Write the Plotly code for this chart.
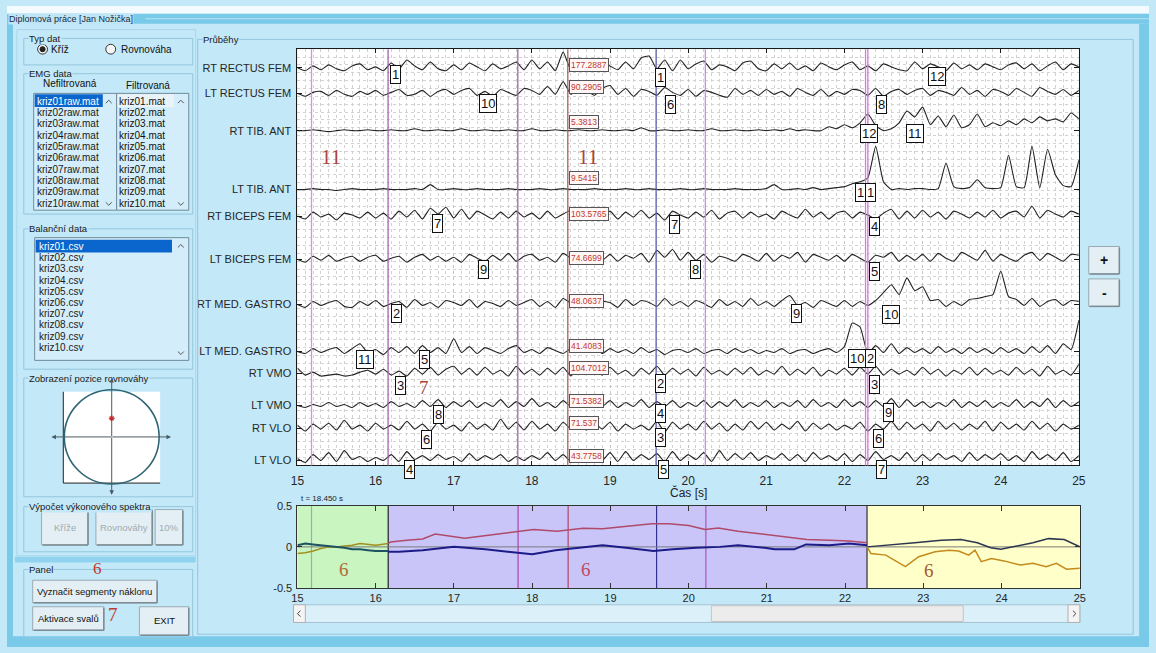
import numpy as np
import plotly.graph_objects as go

W, H = 1156, 653
SANS = "Liberation Sans"
SERIF = "Liberation Serif"

# ---------------- data ----------------
t_start = 15.0
t_step = 0.1

channel_names = ["RT RECTUS FEM", "LT RECTUS FEM", "RT TIB. ANT", "LT TIB. ANT",
                 "RT BICEPS FEM", "LT BICEPS FEM", "RT MED. GASTRO", "LT MED. GASTRO",
                 "RT VMO", "LT VMO", "RT VLO", "LT VLO"]
channel_baseline = [405, 379, 341, 281, 254, 210, 164, 116, 94, 61, 38, 5]

rt_rectus_fem = [0, -3, 2, -2, 3, -1, -3, 2, 4, -2,
                 1, -3, 5, -1, 8, 2, -2, 6, -1, -3,
                 3, -2, 5, 1, -3, 4, -1, 2, 6, -2,
                 8, -1, 6, -3, 16, -2, 10, 3, -2, 5,
                 2, -2, 6, -1, 10, 12, -1, 8, -3, 8,
                 -1, 4, 7, -2, 3, 1, -3, 5, 7, -1,
                 -3, 4, -1, 5, -2, 2, -3, 5, 1, -2,
                 3, 6, -2, 2, -3, 4, 1, -2, -3, 6,
                 -1, 4, 1, -3, 5, -1, 3, -2, 4, 1,
                 -2, 3, 5, -1, 4, -3, 2, 6, -2, 4,
                 1]
lt_rectus_fem = [0, -3, 1, 2, -2, 3, -1, -3, 2, -1,
                 3, -2, 1, 4, -2, -1, 3, -3, 2, 4,
                 -1, 3, 5, -2, 2, -3, 4, 1, -2, 5,
                 3, -1, 7, -1, 12, -1, 6, 3, -2, 5,
                 8, -1, 5, -3, 4, 2, -2, 6, 1, -2,
                 4, -3, 3, 1, -2, -4, 5, -1, 3, -2,
                 4, -1, 2, -3, 5, 1, -2, 4, -3, 2,
                 -1, 4, 3, -2, 5, -3, 2, 4, -1, 3,
                 5, -2, 3, 1, -2, 6, -1, 3, -3, 4,
                 2, -2, 5, 1, -3, 6, 2, -1, 4, -2,
                 3]
rt_tib_ant = [0, 0, 1, 0, -1, 0, 1, 0, 0, 1,
              0, 0, 1, 0, 0, 2, 0, 0, 1, 0,
              0, 2, 0, 0, 1, 0, 0, 1, 0, 0,
              2, 0, 0, 1, 0, 0, 1, 0, 0, 1,
              0, 0, 1, 0, 3, 0, 0, 1, 0, 0,
              1, 0, 0, 2, 0, 0, 1, 0, 0, 1,
              0, 1, 0, 2, 0, 1, 0, 0, 4, 2,
              6, 3, 8, 17, 5, 0, 2, 8, 20, 14,
              24, 6, 15, 4, 16, 3, 6, 17, 4, 8,
              5, 10, 6, 12, 8, 14, 10, 12, 9, 18,
              12]
lt_tib_ant = [0, 0, 1, 0, 0, -1, 0, 1, 0, 0,
              0, 1, 0, 0, 0, 1, 0, 5, 0, 0,
              1, 0, 0, 1, 0, 0, 0, 1, 0, 0,
              0, 1, 0, 0, 1, 0, 0, 0, 1, 0,
              0, 0, 1, 0, 0, 1, 0, 0, 0, 1,
              0, 0, 1, 0, 0, 0, 1, 0, 0, 0,
              1, 5, 0, 0, 1, 0, 2, 0, 1, 2,
              3, 6, 8, 12, 44, 8, 0, 1, 0, 1,
              1, 0, 1, 27, 3, 1, 2, 10, 2, 1,
              2, 35, 3, 2, 44, 2, 41, 15, 4, 3,
              30]
rt_biceps_fem = [0, -3, 4, -1, 2, -4, 3, 1, -2, 4,
                 -2, 3, -3, 5, -1, 6, -3, 8, 2, 9,
                 -2, 7, -3, 5, 1, -3, 4, -2, 5, -1,
                 3, -3, 5, -2, 2, 6, -3, 4, 1, -2,
                 5, -3, 4, -1, 6, -2, 3, -4, 5, 1,
                 -2, 4, -1, 6, -3, 3, 5, -2, 4, -1,
                 2, -3, 5, 1, -2, 7, -1, 4, -3, 3,
                 5, -2, 4, 1, -3, 3, 7, -3, 5, -2,
                 6, -1, 4, -3, 5, 2, -2, 4, -1, 6,
                 -2, 3, 5, -1, 10, -2, 6, 2, -1, 5,
                 2]
lt_biceps_fem = [0, -3, 3, -1, 4, -2, 1, 3, -2, 2,
                 4, -2, 1, 3, -3, 2, 5, -1, 3, -2,
                 2, -3, 5, 1, -2, 4, -1, 6, -2, 3,
                 5, -1, 2, -3, 6, 1, -2, 4, 7, -1,
                 5, -2, 4, 1, 6, -3, 9, 2, 10, -1,
                 7, -1, 5, -3, 3, 1, -2, 5, 2, -2,
                 6, -2, 4, 1, 7, -3, 5, 2, -1, 4,
                 -2, 5, 1, -3, 4, 2, 7, -2, 4, -1,
                 5, -2, 6, 1, -2, 7, 3, -1, 9, -2,
                 5, 1, -2, 4, 7, -1, 6, 2, -2, 5,
                 4]
rt_med_gastro = [0, -3, 3, -1, 2, 4, -2, -3, 3, -1,
                 4, -2, 1, 3, -3, 5, -1, 2, -3, 4,
                 2, -1, 5, -3, 3, 1, -2, 4, -1, 2,
                 5, -2, 3, -3, 6, 1, -1, 4, -2, 3,
                 2, -3, 5, -1, 4, 2, -2, 6, -1, 3,
                 -2, 4, 1, -3, 5, -1, 3, -2, 6, -1,
                 3, -2, 4, 9, -1, 2, -3, 4, 1, -2,
                 4, -2, 3, -1, 4, 12, 20, 10, 27, 14,
                 18, 4, 5, -2, 3, -1, 5, 6, 8, 10,
                 34, 8, 5, -1, 6, -2, 3, 5, -1, 4,
                 3]
lt_med_gastro = [0, -2, 3, -1, 2, 4, -2, 3, 8, -1,
                 2, -3, 4, -1, 5, -2, 6, -1, 4, -2,
                 13, -1, 5, -2, 4, 1, -2, 3, 6, -1,
                 2, -2, 4, 1, -2, 3, -1, 5, 4, -2,
                 3, -1, 2, -2, 4, -1, 2, -3, 1, 2,
                 -1, 3, -2, 1, 2, -2, 3, -1, 2, -2,
                 1, -1, 3, -2, 1, 2, -2, 1, 3, -1,
                 5, 29, 25, -2, 6, -1, 8, -2, 4, -1,
                 3, -2, 5, -1, 3, -2, 4, -1, 3, -2,
                 4, -1, 3, -2, 5, -1, 6, -2, 8, 2,
                 32]
rt_vmo = [5, -2, 1, -3, -2, -1, -3, -2, 1, 3,
          -1, 4, -2, 2, -3, 5, -1, 6, -2, 4,
          7, -1, 5, -2, 6, -1, 3, -3, 7, -1,
          4, -2, 5, -1, 6, -3, 7, -1, 4, -2,
          6, -1, 3, -3, 5, -1, 7, -2, 5, -1,
          4, -3, 6, -1, 3, -2, 5, -1, 6, -2,
          3, -1, 7, -2, 4, -1, 6, -3, 3, -1,
          5, -2, 6, -1, 7, -2, 4, -1, 3, -2,
          6, -1, 4, -3, 3, -1, 6, -2, 5, -1,
          3, -2, 6, -1, 4, -3, 7, -1, 3, -2,
          9]
lt_vmo = [0, -2, 1, -1, 3, -1, 1, -2, 3, -1,
          2, -2, 4, -1, 2, -2, 5, -1, 6, -2,
          4, -1, 5, -2, 3, -1, 6, -2, 4, -1,
          7, -1, 3, -2, 5, -1, 6, -2, 3, -1,
          5, -2, 3, -1, 6, -2, 4, -1, 5, -2,
          3, -1, 5, -2, 4, -1, 6, -2, 3, -1,
          5, -2, 3, -1, 5, -2, 6, -1, 3, -2,
          6, -1, 4, -2, 5, -1, 7, -2, 6, -1,
          4, -2, 3, -1, 6, -2, 4, -1, 5, -2,
          3, -1, 6, -2, 4, -1, 7, -2, 5, -1,
          4]
rt_vlo = [3, -3, 4, -1, 5, -2, 8, -1, 3, -3,
          5, -1, 3, -2, 7, -1, 4, -3, 6, -1,
          3, -3, 6, -1, 4, -2, 9, -1, 6, -2,
          7, -1, 4, -3, 6, -1, 3, -2, 5, -1,
          6, -3, 4, -1, 3, -2, 7, -4, 6, -1,
          4, -2, 7, -1, 5, -3, 4, -2, 7, -1,
          6, -2, 4, -1, 7, -3, 5, -1, 4, -2,
          3, -1, 6, -3, 4, -1, 7, -2, 6, -1,
          4, -3, 7, -1, 5, -2, 4, -1, 7, -3,
          6, -1, 4, -2, 7, -1, 5, -3, 4, -1,
          3]
lt_vlo = [2, -2, 6, 0, 8, -1, 10, 1, 4, -1,
          3, 0, 6, -1, 9, 1, 5, 0, 6, 1,
          4, -1, 7, 0, 5, 1, 6, -1, 4, 0,
          5, 1, 8, 0, 6, -1, 10, 2, 7, 0,
          8, -1, 9, 0, 6, 1, 7, -1, 9, 0,
          6, 1, 8, -1, 10, 0, 7, 1, 8, 0,
          5, 1, 7, 0, 6, -1, 8, 1, 5, 0,
          7, -1, 6, 0, 9, 1, 5, 0, 8, -1,
          6, 0, 7, 1, 5, -1, 8, 0, 6, 1,
          7, 0, 5, -1, 9, 1, 6, 0, 8, -1,
          5]

channels = [rt_rectus_fem, lt_rectus_fem, rt_tib_ant, lt_tib_ant, rt_biceps_fem,
            lt_biceps_fem, rt_med_gastro, lt_med_gastro, rt_vmo, lt_vmo, rt_vlo, lt_vlo]

peak_values = ["177.2887", "90.2905", "5.3813", "9.5415", "103.5765", "74.6699",
               "48.0637", "41.4083", "104.7012", "71.5382", "71.537", "43.7758"]
peak_lift = [3, 6, 9, 12, 2, 1, 3, 6, 5, 5, 5, 5]
cursor_time = 18.46

segment_times = [15.18, 16.16, 17.82, 18.46, 19.59, 20.22, 22.27, 22.30]
segment_colors_main = ["#d892d8", "#a464ac", "#a464ac", "#a86060", "#5c5cab",
                       "#c890e0", "#d47cd8", "#d47cd8"]

label_time = [16.25, 19.65, 23.19, 17.44, 19.77, 22.47, 22.32, 22.90, 22.20, 22.34,
              16.79, 19.82, 22.39, 17.38, 20.10, 22.39, 16.27, 21.39, 22.59,
              15.86, 16.63, 22.16, 22.33, 16.32, 19.65, 22.39, 16.81, 19.65, 22.56,
              16.65, 19.65, 22.44, 16.43, 19.68, 22.47]
label_level = [398, 395, 396, 369, 368, 368, 338, 338, 278, 278,
               246, 245, 243, 200, 200, 198, 155, 155, 154,
               108, 108, 109, 109, 81, 83, 82, 52, 53, 54,
               26, 28, 27, -4, -4, -4]
label_text = ["1", "1", "12", "10", "6", "8", "12", "11", "1", "1",
              "7", "7", "4", "9", "8", "5", "2", "9", "10",
              "11", "5", "10", "2", "3", "2", "3", "8", "4", "9",
              "6", "3", "6", "4", "5", "7"]

# centre-of-pressure traces (bottom panel)
green_t = [15.0, 15.1, 15.2, 15.3, 15.4, 15.5, 15.6, 15.7, 15.8, 15.9, 16.0, 16.16]
green_teal = [0.02, 0.04, 0.03, 0.02, 0.01, 0.0, -0.01, -0.03, -0.03, -0.04, -0.05, -0.05]
green_olive = [-0.08, -0.07, -0.05, -0.02, 0.0, 0.0, 0.01, 0.02, 0.04, 0.03, 0.02, 0.04]

purple_red_t = [16.16, 16.19, 16.4, 16.6, 16.76, 16.97, 17.14, 17.44, 17.82, 18.02, 18.32,
                18.65, 18.9, 19.24, 19.53, 19.75, 20.0, 20.21, 20.38, 20.63, 20.97,
                21.22, 21.51, 21.8, 22.05, 22.28]
purple_red = [0.04, 0.06, 0.08, 0.095, 0.155, 0.13, 0.105, 0.14, 0.18, 0.21, 0.19,
              0.225, 0.22, 0.25, 0.28, 0.28, 0.26, 0.21, 0.23, 0.19, 0.15,
              0.12, 0.09, 0.08, 0.07, 0.05]
purple_blue_t = [16.16, 16.3, 16.6, 17.0, 17.4, 17.8, 18.0, 18.3, 18.6, 18.9, 19.2,
                 19.55, 19.8, 20.1, 20.4, 20.63, 20.97, 21.1, 21.35, 21.5, 21.8,
                 22.05, 22.28]
purple_blue = [-0.06, -0.06, -0.04, 0.0, -0.03, -0.07, -0.09, -0.04, -0.01, 0.02, -0.01,
               -0.05, -0.03, -0.01, 0.0, 0.02, -0.01, -0.03, -0.03, 0.03, 0.02,
               0.04, 0.02]
yellow_dark_t = [22.28, 22.55, 22.89, 23.23, 23.48, 23.69, 23.86, 23.99, 24.2, 24.4,
                 24.6, 24.8, 25.0]
yellow_dark = [0.0, 0.02, 0.05, 0.08, 0.09, 0.05, -0.01, -0.03, 0.01, 0.05,
               0.1, 0.09, 0.0]
yellow_orange_t = [22.28, 22.33, 22.52, 22.77, 22.94, 23.15, 23.33, 23.45, 23.58, 23.66,
                   23.74, 23.87, 24.03, 24.24, 24.4, 24.57, 24.7, 24.83, 25.0]
yellow_orange = [0.0, -0.08, -0.1, -0.24, -0.12, -0.06, -0.04, -0.05, -0.1, -0.04,
                 -0.18, -0.14, -0.17, -0.22, -0.2, -0.24, -0.2, -0.27, -0.26]

region_bounds = [15.0, 16.16, 22.28, 25.0]
region_colors = ["#c9f5c1", "#c9c5f9", "#ffffc9"]
segment_times_bottom = [15.18, 16.16, 17.82, 18.46, 19.59, 20.22, 22.28]
segment_colors_bottom = ["#a8a8a8", "#202020", "#b040b0", "#b04868", "#303090",
                         "#b050c0", "#303030"]

nef_files = ["kriz%02draw.mat" % i for i in range(1, 11)]
fil_files = ["kriz%02d.mat" % i for i in range(1, 11)]
bal_files = ["kriz%02d.csv" % i for i in range(1, 11)]

# ---------------- figure ----------------
t = np.round(t_start + t_step * np.arange(len(rt_rectus_fem)), 3)

fig = go.Figure()
for base, vals in zip(channel_baseline, channels):
    fig.add_trace(go.Scatter(x=t, y=base + np.array(vals, dtype=float), mode="lines",
                             line=dict(color="#222222", width=1.1, shape="spline", smoothing=0.5),
                             xaxis="x", yaxis="y", hoverinfo="skip", showlegend=False))

def cop(x, y, color, width=1.5):
    fig.add_trace(go.Scatter(x=x, y=y, mode="lines", line=dict(color=color, width=width),
                             xaxis="x2", yaxis="y2", hoverinfo="skip", showlegend=False))

cop(green_t, green_olive, "#a09020")
cop(green_t, green_teal, "#1e5262", 2)
cop(purple_red_t, purple_red, "#b04a6a")
cop(purple_blue_t, purple_blue, "#1c1c88", 2)
cop(yellow_dark_t, yellow_dark, "#2c3550")
cop(yellow_orange_t, yellow_orange, "#c48a1c")

shapes = []
annotations = []

def px(x):
    return x / W

def py(y):
    return 1 - y / H

def rect(x0, y0, x1, y1, fill=None, line=None, lw=1):
    shapes.append(dict(type="rect", xref="paper", yref="paper", x0=px(x0), x1=px(x1),
                       y0=py(y1), y1=py(y0), fillcolor=fill or "rgba(0,0,0,0)",
                       line=dict(color=line or "rgba(0,0,0,0)", width=lw if line else 0),
                       layer="above"))

def line(x0, y0, x1, y1, color, lw=1):
    shapes.append(dict(type="line", xref="paper", yref="paper", x0=px(x0), x1=px(x1),
                       y0=py(y0), y1=py(y1), line=dict(color=color, width=lw)))

def path(points, color, lw=1):
    d = "M " + " L ".join("%.5f,%.5f" % (px(a), py(b)) for a, b in points)
    shapes.append(dict(type="path", xref="paper", yref="paper", path=d,
                       line=dict(color=color, width=lw)))

def circle(cx, cy, r, fill=None, color="#333", lw=1):
    shapes.append(dict(type="circle", xref="paper", yref="paper", x0=px(cx - r), x1=px(cx + r),
                       y0=py(cy + r), y1=py(cy - r), fillcolor=fill or "rgba(0,0,0,0)",
                       line=dict(color=color, width=lw)))

def text(x, y, s, size=10, color="#111", xanchor="left", family=SANS, bg=None, yanchor="middle"):
    annotations.append(dict(xref="paper", yref="paper", x=px(x), y=py(y), text=s,
                            showarrow=False, xanchor=xanchor, yanchor=yanchor,
                            font=dict(size=size, color=color, family=family),
                            bgcolor=bg, borderpad=0))

OUTER = "#79c9e9"
PANEL = "#c3e8f8"
BOXLINE = "#93c6dc"
LISTBG = "#d3eefa"
BTN = "#e3eff5"
BTNLINE = "#9aabb4"
SEL = "#0a66cc"

# window frame
rect(0, 0, W, 8, "#f4fbfe")
rect(0, 8, W, 18, OUTER)
line(140, 13, W, 13, "#b8e3f4")
rect(0, 18, 6, H, OUTER)
rect(1146, 18, W, H, OUTER)
rect(0, 642, W, H, OUTER)
text(1, 13, "Diplomová práce [Jan Nožička]", 9, "#1a2a3a", bg="#bfe6f7")

def groupbox(x0, y0, x1, y1, title):
    rect(x0, y0, x1, y1, None, BOXLINE)
    text(x0 + 4, y0, title, 9.5, "#1a1a1a", bg=PANEL)

rect(10, 24, 191, 560, None, "#a9d7ea")
rect(8, 561, 191, 567, "#8fd3ef")
groupbox(17, 33, 188, 60, "Typ dat")
groupbox(17, 69, 188, 212, "EMG data")
groupbox(17, 227, 188, 370, "Balanční data")
groupbox(17, 379, 188, 500, "Zobrazení pozice rovnováhy")
groupbox(17, 510, 188, 556, "Výpočet výkonového spektra")
groupbox(17, 574, 188, 644, "Panel")
groupbox(193, 34, 1140, 640, "Průběhy")

# radio buttons
circle(36, 44, 5, "#f4f4f4", "#333")
circle(36, 44, 2.6, "#222", "#222")
text(44, 44, "Kříž", 10)
circle(105, 44, 5, "#f4f4f4", "#333")
text(114, 44, "Rovnováha", 10)

# EMG list boxes
text(64, 79, "Nefiltrovaná", 10, xanchor="center")
text(143, 81, "Filtrovaná", 10, xanchor="center")
rect(27, 89, 111, 208, LISTBG, "#6f8a98")
rect(111, 89, 184, 208, LISTBG, "#6f8a98")
rect(28, 90, 97, 103, SEL)
rect(112, 90, 169, 103, "#eaf3f7")
for i, (a, b) in enumerate(zip(nef_files, fil_files)):
    yy = 97 + 11.55 * i
    text(29, yy, a, 10, "white" if i == 0 else "#1a1a1a")
    text(112, yy, b, 10)
for cx in (103, 176):
    path([(cx - 3, 99), (cx, 96), (cx + 3, 99)], "#555")
    path([(cx - 3, 200), (cx, 203), (cx + 3, 200)], "#555")

# balance list box
rect(28, 236, 184, 361, LISTBG, "#6f8a98")
rect(29, 238, 167, 251, SEL)
for i, b in enumerate(bal_files):
    text(31, 245 + 11.4 * i, b, 10, "white" if i == 0 else "#1a1a1a")
path([(173, 246), (176, 243), (179, 246)], "#555")
path([(173, 352), (176, 355), (179, 352)], "#555")

# balance position plot
rect(57, 393, 155, 486, "white")
line(57, 393, 57, 486, "#222")
line(57, 486, 155, 486, "#222")
circle(106, 439, 48, None, "#2f6575", 1.6)
for hx, hy in ((166, 439), (45, 439), (106, 379), (106, 498)):
    annotations.append(dict(xref="paper", yref="paper", x=px(hx), y=py(hy),
                            ax=106 - hx, ay=439 - hy, text="", showarrow=True,
                            arrowhead=2, arrowsize=0.9, arrowwidth=1, arrowcolor="#4a5a64"))
path([(103, 420), (109, 420)], "#d02020", 1.2)
path([(106, 417), (106, 423)], "#d02020", 1.2)
path([(104, 418), (108, 422)], "#d02020", 1.2)
path([(104, 422), (108, 418)], "#d02020", 1.2)

# buttons
def button(x0, y0, x1, y1, s, color="#111", size=9.5):
    rect(x0, y0, x1, y1, BTN, BTNLINE)
    line(x0 + 1, y1, x1, y1, "#7d8a92", 1.5)
    line(x1, y0 + 1, x1, y1, "#7d8a92", 1.5)
    text((x0 + x1) / 2, (y0 + y1) / 2, s, size, color, xanchor="center")

button(35, 513, 82, 549, "Kříže", "#a2abb0")
button(90, 513, 147, 549, "Rovnováhy", "#a2abb0")
button(150, 513, 178, 549, "10%", "#a2abb0")
button(26, 585, 152, 608, "Vyznačit segmenty náklonu")
button(26, 612, 98, 636, "Aktivace svalů")
button(134, 612, 184, 641, "EXIT")
text(92, 573, "6", 17, "#c0392b", xanchor="center", family=SERIF)
text(107, 620, "7", 19, "#c0392b", xanchor="center", family=SERIF)

button(1095, 245, 1126, 273, "<b>+</b>", size=14)
button(1095, 278, 1126, 306, "<b>-</b>", size=14)

# scrollbar under the bottom plot
rect(290, 610, 1086, 628, "#dcf0fa", "#a6c2ce")
rect(713, 611, 968, 627, "#ececec", "#c4c4c4")
rect(290, 610, 302, 628, "#f4f4f4", "#b0b0b0")
rect(1074, 610, 1086, 628, "#f4f4f4", "#b0b0b0")
path([(297, 616), (294, 619), (297, 622)], "#444")
path([(1079, 616), (1082, 619), (1079, 622)], "#444")

# ---- main EMG plot decorations ----
for tt, c in zip(segment_times, segment_colors_main):
    shapes.append(dict(type="line", xref="x", yref="y domain", x0=tt, x1=tt, y0=0, y1=1,
                       line=dict(color=c, width=1.3), layer="above"))

for base, lift, val in zip(channel_baseline, peak_lift, peak_values):
    annotations.append(dict(xref="x", yref="y", x=cursor_time + 0.02, y=base + lift,
                            text=val, showarrow=False, xanchor="left", yanchor="middle",
                            font=dict(size=8.5, color="#c0392b", family=SANS),
                            bgcolor="#fff7f7", bordercolor="#555", borderwidth=1, borderpad=1))

for tt, lv, s in zip(label_time, label_level, label_text):
    annotations.append(dict(xref="x", yref="y", x=tt, y=max(lv, 0), yshift=min(lv, 0),
                            text=s, showarrow=False, xanchor="center", yanchor="middle",
                            font=dict(size=13, color="#111", family=SANS),
                            bgcolor="white", bordercolor="#111", borderwidth=1, borderpad=1))

for tt, lv, s in ((15.43, 314, "11"), (18.72, 314, "11"), (16.62, 79, "7")):
    annotations.append(dict(xref="x", yref="y", x=tt, y=lv, text=s, showarrow=False,
                            xanchor="center", yanchor="middle",
                            font=dict(size=21 if s == "11" else 19, color="#a8443a",
                                      family=SERIF)))

text(690, 496, "Čas [s]", 12, "#222", xanchor="center")
text(297, 502, "t = 18.450 s", 8, "#222")

# ---- bottom plot decorations ----
for i, c in enumerate(region_colors):
    shapes.append(dict(type="rect", xref="x2", yref="y2 domain", x0=region_bounds[i],
                       x1=region_bounds[i + 1], y0=0, y1=1, fillcolor=c,
                       line=dict(width=0), layer="below"))
shapes.append(dict(type="line", xref="x2", yref="y2", x0=15, x1=25, y0=0, y1=0,
                   line=dict(color="#7a7a7a", width=1), layer="below"))
for tt, c in zip(segment_times_bottom, segment_colors_bottom):
    shapes.append(dict(type="line", xref="x2", yref="y2 domain", x0=tt, x1=tt, y0=0, y1=1,
                       line=dict(color=c, width=1.2), layer="below"))
for tt, lv, c in ((15.59, -0.27, "#b06a36"), (18.69, -0.27, "#c04a62"), (23.07, -0.29, "#a85a30")):
    annotations.append(dict(xref="x2", yref="y2", x=tt, y=lv, text="6", showarrow=False,
                            xanchor="center", yanchor="middle",
                            font=dict(size=19, color=c, family=SERIF)))

axis_font = dict(family=SANS, size=11, color="#262626")
fig.update_layout(
    width=W, height=H, autosize=False,
    margin=dict(l=0, r=0, t=0, b=0),
    paper_bgcolor=PANEL, plot_bgcolor="white",
    showlegend=False,
    shapes=shapes, annotations=annotations,
    xaxis=dict(domain=[px(294), px(1085)], range=[15, 25], anchor="y",
               showline=True, linecolor="#1a1a1a", linewidth=1, mirror="ticks",
               ticks="inside", ticklen=4, tickcolor="#1a1a1a", ticklabelstandoff=4,
               tickmode="array", tickvals=list(range(15, 26)),
               tickfont=dict(family=SANS, size=12, color="#262626"),
               showgrid=True, gridcolor="#c4c4c4", griddash="dot", gridwidth=1,
               minor=dict(tickmode="linear", tick0=15, dtick=0.1, showgrid=True,
                          gridcolor="#d2d2d2", griddash="dot", gridwidth=1, ticks=""),
               zeroline=False, fixedrange=True),
    yaxis=dict(domain=[py(468), py(44)], range=[0, 424], anchor="x",
               showline=True, linecolor="#1a1a1a", linewidth=1, mirror="ticks",
               ticks="inside", ticklen=5, tickcolor="#1a1a1a", ticklabelstandoff=3,
               tickmode="array", tickvals=channel_baseline, ticktext=channel_names,
               tickfont=axis_font, showgrid=False,
               minor=dict(tickmode="linear", tick0=0, dtick=8, showgrid=True,
                          gridcolor="#d2d2d2", griddash="dot", gridwidth=1, ticks=""),
               zeroline=False, fixedrange=True),
    xaxis2=dict(domain=[px(294), px(1086)], range=[15, 25], anchor="y2",
                showline=True, linecolor="#333", linewidth=1, mirror="ticks",
                ticks="inside", ticklen=5, tickcolor="#333",
                tickmode="array", tickvals=list(range(15, 26)),
                tickfont=axis_font, showgrid=False, zeroline=False, fixedrange=True),
    yaxis2=dict(domain=[py(593), py(509)], range=[-0.5, 0.5], anchor="x2",
                showline=True, linecolor="#333", linewidth=1, mirror="ticks",
                ticks="inside", ticklen=5, tickcolor="#333", ticklabelstandoff=2,
                tickmode="array", tickvals=[-0.5, 0, 0.5], ticktext=["-0.5", "0", "0.5"],
                tickfont=axis_font, showgrid=False, zeroline=False, fixedrange=True),
)

fig.write_html("out.html", config={"displayModeBar": False},
               post_script="document.body.style.margin='0px';"
                           "document.body.style.overflow='hidden';")
